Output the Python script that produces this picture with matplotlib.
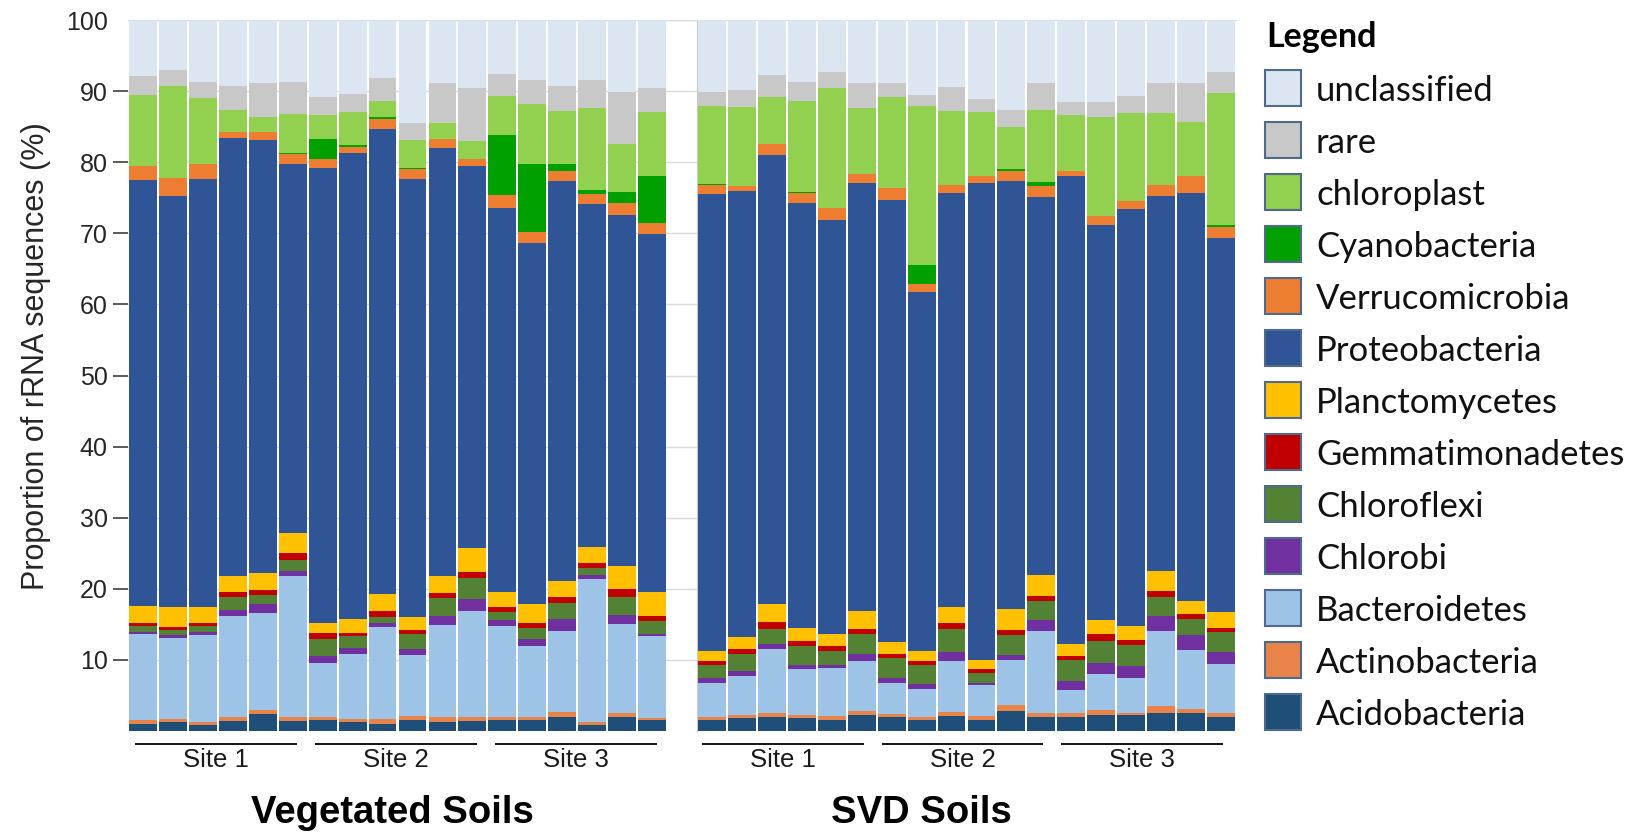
import numpy as np
import matplotlib.pyplot as plt
from matplotlib.patches import Rectangle
from matplotlib.transforms import blended_transform_factory

# stacking order, bottom to top ("unclassified" fills the rest up to 100 %)
phyla = ['Acidobacteria', 'Actinobacteria', 'Bacteroidetes', 'Chlorobi', 'Chloroflexi',
         'Gemmatimonadetes', 'Planctomycetes', 'Proteobacteria', 'Verrucomicrobia',
         'Cyanobacteria', 'chloroplast', 'rare']

colors = {'Acidobacteria': '#1f4e79', 'Actinobacteria': '#e8844a', 'Bacteroidetes': '#9dc3e6',
          'Chlorobi': '#7030a0', 'Chloroflexi': '#548235', 'Gemmatimonadetes': '#c00000',
          'Planctomycetes': '#ffc000', 'Proteobacteria': '#2f5597', 'Verrucomicrobia': '#ed7d31',
          'Cyanobacteria': '#00a000', 'chloroplast': '#92d050', 'rare': '#c8c8c8',
          'unclassified': '#dce6f2'}

sites = ['Site 1', 'Site 2', 'Site 3']

# Vegetated soils, 18 samples (6 per site), % of rRNA sequences
veg_acido   = [1.0, 1.2, 0.8, 1.4, 2.4, 1.4, 1.5, 1.2, 1.0, 1.6, 1.2, 1.4, 1.6, 1.5, 2.0, 0.8, 2.0, 1.5]
veg_actino  = [0.6, 0.5, 0.5, 0.5, 0.5, 0.6, 0.5, 0.5, 0.7, 0.5, 0.8, 0.6, 0.4, 0.5, 0.7, 0.5, 0.5, 0.3]
veg_bact    = [12.1, 11.4, 12.2, 14.3, 13.7, 19.8, 7.6, 9.2, 12.9, 8.6, 12.9, 14.9, 12.8, 10.0, 11.3, 20.1, 12.6, 11.6]
veg_chlorobi = [0.2, 0.4, 0.4, 0.8, 1.3, 0.7, 1.0, 0.8, 0.6, 0.9, 1.3, 1.6, 0.8, 1.0, 1.8, 0.5, 1.2, 0.3]
veg_chlfx   = [0.8, 0.7, 0.8, 1.9, 1.2, 1.6, 2.4, 1.6, 0.9, 2.1, 2.5, 3.0, 1.1, 1.5, 2.2, 1.0, 2.6, 1.8]
veg_gemm    = [0.5, 0.4, 0.5, 0.7, 0.8, 0.9, 0.8, 0.5, 0.8, 0.5, 0.7, 0.8, 0.7, 0.7, 0.8, 0.7, 1.1, 0.7]
veg_plancto = [2.4, 2.9, 2.2, 2.2, 2.3, 2.9, 1.4, 1.9, 2.3, 1.9, 2.4, 3.5, 2.2, 2.6, 2.3, 2.3, 3.2, 3.4]
veg_proteo  = [59.9, 57.7, 60.3, 61.6, 60.9, 51.8, 64.0, 65.6, 65.4, 61.6, 60.2, 53.6, 53.9, 50.8, 56.2, 48.2, 49.4, 50.3]
veg_verr    = [2.0, 2.6, 2.0, 0.9, 1.2, 1.4, 1.2, 0.9, 1.5, 1.3, 1.2, 1.1, 1.9, 1.6, 1.4, 1.4, 1.6, 1.6]
veg_cyano   = [0.0, 0.0, 0.0, 0.0, 0.0, 0.2, 2.8, 0.2, 0.2, 0.2, 0.0, 0.0, 8.4, 9.5, 1.0, 0.6, 1.6, 6.5]
veg_chloro  = [10.0, 12.9, 9.3, 3.0, 2.1, 5.5, 3.5, 4.6, 2.3, 3.9, 2.3, 2.5, 5.5, 8.5, 7.5, 11.5, 6.8, 9.1]
veg_rare    = [2.6, 2.3, 2.3, 3.4, 4.7, 4.5, 2.5, 2.6, 3.2, 2.4, 5.6, 7.5, 3.1, 3.4, 3.5, 4.0, 7.3, 3.4]

# SVD soils, 18 samples (6 per site)
svd_acido   = [1.6, 1.8, 2.0, 1.8, 1.6, 2.3, 1.9, 1.5, 2.1, 1.6, 2.8, 2.0, 2.0, 2.3, 2.2, 2.6, 2.6, 2.0]
svd_actino  = [0.4, 0.5, 0.6, 0.5, 0.5, 0.5, 0.5, 0.5, 0.6, 0.5, 0.9, 0.5, 0.5, 0.6, 0.4, 0.9, 0.5, 0.5]
svd_bact    = [4.8, 5.4, 8.9, 6.4, 6.7, 7.0, 4.3, 3.9, 7.1, 4.3, 6.3, 11.5, 3.3, 5.1, 4.8, 10.6, 8.3, 6.9]
svd_chlorobi = [0.6, 0.8, 0.8, 0.6, 0.5, 1.0, 0.8, 0.7, 1.3, 0.4, 0.7, 1.6, 1.2, 1.6, 1.8, 2.1, 2.1, 1.7]
svd_chlfx   = [1.9, 2.4, 2.1, 2.6, 2.0, 2.8, 2.8, 2.7, 3.3, 1.3, 2.8, 2.7, 3.0, 3.1, 2.9, 2.7, 2.3, 2.8]
svd_gemm    = [0.5, 0.7, 1.0, 0.7, 0.7, 0.8, 0.5, 0.5, 0.8, 0.6, 0.7, 0.7, 0.6, 0.9, 0.7, 0.8, 0.6, 0.6]
svd_plancto = [1.4, 1.6, 2.4, 1.9, 1.6, 2.5, 1.7, 1.4, 2.3, 1.3, 2.9, 2.9, 1.6, 2.0, 2.0, 2.8, 1.9, 2.3]
svd_proteo  = [64.3, 62.7, 63.2, 59.8, 58.3, 60.2, 62.2, 50.6, 58.1, 67.1, 60.3, 53.2, 65.8, 55.6, 58.6, 52.8, 57.4, 52.6]
svd_verr    = [1.3, 0.7, 1.6, 1.3, 1.6, 1.2, 1.7, 1.1, 1.2, 1.0, 1.4, 1.5, 0.8, 1.2, 1.1, 1.5, 2.3, 1.5]
svd_cyano   = [0.2, 0.0, 0.0, 0.2, 0.0, 0.0, 0.0, 2.7, 0.0, 0.0, 0.2, 0.6, 0.0, 0.0, 0.0, 0.0, 0.0, 0.3]
svd_chloro  = [10.9, 11.1, 6.5, 12.8, 17.0, 9.3, 12.8, 22.3, 10.4, 9.0, 6.0, 10.1, 7.9, 14.0, 12.4, 10.1, 7.7, 18.6]
svd_rare    = [2.0, 2.5, 3.2, 2.7, 2.2, 3.6, 2.0, 1.6, 3.4, 1.8, 2.3, 3.8, 1.7, 2.1, 2.4, 4.2, 5.4, 2.9]

veg_layers = [veg_acido, veg_actino, veg_bact, veg_chlorobi, veg_chlfx, veg_gemm, veg_plancto,
              veg_proteo, veg_verr, veg_cyano, veg_chloro, veg_rare]
svd_layers = [svd_acido, svd_actino, svd_bact, svd_chlorobi, svd_chlfx, svd_gemm, svd_plancto,
              svd_proteo, svd_verr, svd_cyano, svd_chloro, svd_rare]

W, H = 1646, 834
fig = plt.figure(figsize=(W / 100, H / 100), dpi=100)
plt.rcParams['font.family'] = ['Liberation Sans', 'DejaVu Sans']

def fx(px):
    return px / W

def fy(py):
    return 1 - py / H

top_px, bot_px = 20, 731
ax1 = fig.add_axes([fx(128), fy(bot_px), (697 - 128) / W, (bot_px - top_px) / H])
ax2 = fig.add_axes([fx(697), fy(bot_px), (1236 - 697) / W, (bot_px - top_px) / H])


def stack(ax, layers):
    x = np.arange(len(layers[0]))
    bottom = np.zeros(len(x))
    for name, vals in zip(phyla, layers):
        vals = np.array(vals)
        ax.bar(x, vals, 0.93, bottom=bottom, color=colors[name], linewidth=0, zorder=3)
        bottom += vals
    ax.bar(x, 100 - bottom, 0.93, bottom=bottom, color=colors['unclassified'], linewidth=0, zorder=3)


def site_marks(ax, start_off, end_off):
    trans = blended_transform_factory(ax.transData, ax.transAxes)
    for g, s in enumerate(sites):
        a, b = 6 * g + start_off, 6 * g + end_off
        ax.plot([a, b], [-0.018, -0.018], transform=trans, color='black', lw=1.3,
                clip_on=False, solid_capstyle='butt')
        ax.text((a + b) / 2, -0.041, s, transform=trans, ha='center', va='center',
                fontsize=18.5, color='#1a1a1a')


stack(ax1, veg_layers)
stack(ax2, svd_layers)

ax1.set_xlim(-0.5, 18.5)
ax2.set_xlim(-0.5, 17.5)
for ax in (ax1, ax2):
    ax.set_ylim(0, 100)
    ax.set_xticks([])
    ax.set_yticks(range(10, 101, 10))
    for sp in ax.spines.values():
        sp.set_visible(False)
    ax.spines['top'].set_visible(True)
    ax.spines['top'].set_color('#d9d9d9')

ax1.set_axisbelow(True)
ax1.yaxis.grid(True, color='#d9d9d9', lw=1)
ax1.tick_params(axis='y', length=11, width=1.2, color='#404040', pad=3.5,
                labelsize=18, labelcolor='#262626')
ax1.yaxis.get_major_ticks()[-1].tick1line.set_visible(False)
ax2.tick_params(axis='y', length=0, labelleft=False)
ax2.spines['left'].set_visible(True)
ax2.spines['left'].set_color('#c8c8c8')

site_marks(ax1, -0.25, 5.15)
site_marks(ax2, -0.33, 5.07)

fig.text(fx(36), fy(356), 'Proportion of rRNA sequences (%)', rotation=90,
         ha='center', va='center', fontsize=22, color='#262626')
fig.text(fx(392), fy(813), 'Vegetated Soils', ha='center', va='center',
         fontsize=27.5, fontweight='bold')
fig.text(fx(921), fy(813), 'SVD Soils', ha='center', va='center',
         fontsize=27.5, fontweight='bold')

# legend, drawn top to bottom
fig.text(fx(1266), fy(37), 'Legend', ha='left', va='center', fontsize=24.5,
         fontweight='bold', family=['Lato', 'DejaVu Sans'])
for i, name in enumerate(['unclassified'] + phyla[::-1]):
    y0 = 70 + 52 * i
    fig.add_artist(Rectangle((fx(1265), fy(y0 + 36)), 36 / W, 36 / H, transform=fig.transFigure,
                             facecolor=colors[name], edgecolor='#4f6a8a', lw=1.5))
    fig.text(fx(1316), fy(y0 + 21), name, ha='left', va='center', fontsize=25,
             family=['Lato', 'DejaVu Sans'], color='#111111')

fig.savefig('out.png', dpi=100)
